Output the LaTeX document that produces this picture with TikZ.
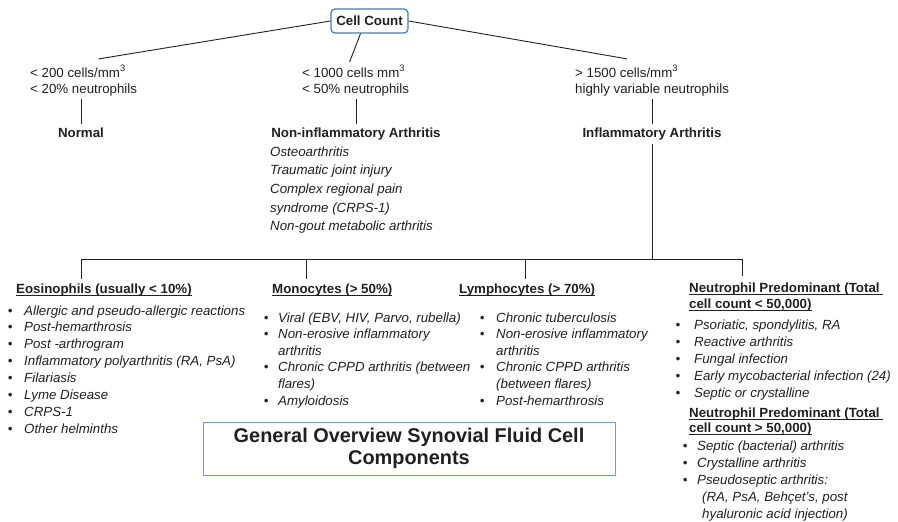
\documentclass[tikz,border=0pt]{standalone}
\usepackage{fontspec}
\setmainfont{Liberation Sans}
\usepackage{xcolor}
\usetikzlibrary{positioning}

\definecolor{boxblue}{HTML}{4A7BB0}
\definecolor{titleblue}{HTML}{6A9FD8}
\definecolor{ink}{HTML}{231F20}

\newlength{\hdw}
\newcommand{\bul}{\textbullet}
\newcommand{\hd}[1]{\settowidth{\hdw}{#1}#1\llap{\rule[-2.3pt]{\hdw}{0.7pt}}}

\tikzset{
  txt/.style={inner sep=0pt, anchor=base west, text=ink},
  cat/.style={inner sep=3.3pt, anchor=base, text=ink, font=\fontsize{13.3}{17}\selectfont\bfseries},
  head/.style={inner xsep=0pt, inner ysep=5pt, anchor=base west, text=ink},
  conn/.style={draw=ink, line width=0.9pt},
}

\begin{document}
\begin{tikzpicture}[x=1pt, y=-1pt]
    \useasboundingbox (0,0) rectangle (898,522);

    \node[draw=boxblue, line width=1.2pt, rounded corners=4pt, fill=white, text=ink,
          minimum width=77pt, minimum height=24pt, inner sep=0pt,
          font=\fontsize{13.3}{17}\selectfont\bfseries] (cc) at (369.5,21) {Cell Count};

    \node[txt, font=\fontsize{13.3}{17}\selectfont] (lo) at (30,77)
        {\begin{tabular}[t]{@{}l@{}}< 200 cells/mm\textsuperscript{3}\\< 20\% neutrophils\end{tabular}};
    \node[txt, font=\fontsize{13.3}{17}\selectfont] (mid) at (302,77)
        {\begin{tabular}[t]{@{}l@{}}< 1000 cells mm\textsuperscript{3}\\< 50\% neutrophils\end{tabular}};
    \node[txt, font=\fontsize{13.3}{17}\selectfont] (hi) at (575,77)
        {\begin{tabular}[t]{@{}l@{}}> 1500 cells/mm\textsuperscript{3}\\highly variable neutrophils\end{tabular}};

    \node[cat] (normal) at (81,137.5) {Normal};
    \node[cat] (noninf) at (356,137.5) {Non-inflammatory Arthritis};
    \node[cat] (infl) at (652,137.5) {Inflammatory Arthritis};

    \node[txt, font=\fontsize{13.3}{18.7}\selectfont\itshape] (noninflist) at (270,156)
        {\begin{tabular}[t]{@{}l@{}}Osteoarthritis\\Traumatic joint injury\\Complex regional pain\\
         syndrome (CRPS-1)\\Non-gout metabolic arthritis\end{tabular}};

    \draw[conn] (cc.west) -- ([xshift=15pt,yshift=6pt]lo.north);
    \draw[conn] ([xshift=-9pt]cc.south) -- ([xshift=-6pt,yshift=3pt]mid.north);
    \draw[conn] (cc.east) -- ([xshift=-25pt,yshift=6pt]hi.north);
    \draw[conn] (normal.north |- lo.south) -- (normal.north);
    \draw[conn] (noninf.north |- mid.south) -- (noninf.north);
    \draw[conn] (infl.north |- hi.south) -- (infl.north);

    \node[head, font=\fontsize{13.3}{17}\selectfont\bfseries] (eos) at (16,293.5) {\hd{Eosinophils (usually < 10\%)}};
    \node[head, font=\fontsize{13.3}{17}\selectfont\bfseries] (mono) at (272,293.5) {\hd{Monocytes (> 50\%)}};
    \node[head, font=\fontsize{13.3}{17}\selectfont\bfseries] (lympho) at (459,293.5) {\hd{Lymphocytes (> 70\%)}};
    \node[head, font=\fontsize{13.3}{16}\selectfont\bfseries] (neuA) at (689,292.5)
        {\begin{tabular}[t]{@{}l@{}}\hd{Neutrophil Predominant (Total\ }\\\hd{cell count < 50,000)}\end{tabular}};
    \node[head, font=\fontsize{13.3}{15.4}\selectfont\bfseries] (neuB) at (689,417)
        {\begin{tabular}[t]{@{}l@{}}\hd{Neutrophil Predominant (Total\ }\\\hd{cell count > 50,000)}\end{tabular}};

    \coordinate (bar) at (652,259);
    \coordinate (j1) at (81,259);
    \coordinate (j2) at (306,259);
    \coordinate (j3) at (525,259);
    \coordinate (j4) at (742,259);
    \draw[conn] (infl.south) -- (bar);
    \draw[conn] (j1) -- (j4);
    \draw[conn] (j1) -- (j1 |- eos.north);
    \draw[conn] (j2) -- (j2 |- mono.north);
    \draw[conn] (j3) -- (j3 |- lympho.north);
    \draw[conn] (j4) -- (j4 |- neuA.north);

    \node[txt, font=\fontsize{13.3}{16.9}\selectfont\itshape] (eoslist) at (7.7,315)
        {\begin{tabular}[t]{@{}p{16.3pt}@{}l@{}}
         \bul & Allergic and pseudo-allergic reactions\\
         \bul & Post-hemarthrosis\\
         \bul & Post -arthrogram\\
         \bul & Inflammatory polyarthritis (RA, PsA)\\
         \bul & Filariasis\\
         \bul & Lyme Disease\\
         \bul & CRPS-1\\
         \bul & Other helminths
         \end{tabular}};
    \node[txt, font=\fontsize{13.3}{16.66}\selectfont\itshape] (monolist) at (263.6,322)
        {\begin{tabular}[t]{@{}p{14.4pt}@{}l@{}}
         \bul & Viral (EBV, HIV, Parvo, rubella)\\
         \bul & Non-erosive inflammatory\\
              & arthritis\\
         \bul & Chronic CPPD arthritis (between\\
              & flares)\\
         \bul & Amyloidosis
         \end{tabular}};
    \node[txt, font=\fontsize{13.3}{16.66}\selectfont\itshape] (lympholist) at (479.6,322)
        {\begin{tabular}[t]{@{}p{16.4pt}@{}l@{}}
         \bul & Chronic tuberculosis\\
         \bul & Non-erosive inflammatory\\
              & arthritis\\
         \bul & Chronic CPPD arthritis\\
              & (between flares)\\
         \bul & Post-hemarthrosis
         \end{tabular}};
    \node[txt, font=\fontsize{13.3}{17.1}\selectfont\itshape] (neuAlist) at (675.3,329)
        {\begin{tabular}[t]{@{}p{18.7pt}@{}l@{}}
         \bul & Psoriatic, spondylitis, RA\\
         \bul & Reactive arthritis\\
         \bul & Fungal infection\\
         \bul & Early mycobacterial infection (24)\\
         \bul & Septic or crystalline
         \end{tabular}};
    \node[txt, font=\fontsize{13.3}{17}\selectfont\itshape] (neuBlist) at (682.6,450)
        {\begin{tabular}[t]{@{}p{14.4pt}@{}l@{}}
         \bul & Septic (bacterial) arthritis\\
         \bul & Crystalline arthritis\\
         \bul & Pseudoseptic arthritis:\\
              & \hspace{5pt}(RA, PsA, Behçet's, post\\
              & \hspace{5pt}hyaluronic acid injection)
         \end{tabular}};

    \node[draw=titleblue, line width=1pt, minimum width=412pt, minimum height=53pt,
          align=center, text=ink, font=\fontsize{19.9}{22}\selectfont\bfseries] (title) at (409,448.5)
        {General Overview Synovial Fluid Cell\\Components};
\end{tikzpicture}
\end{document}
